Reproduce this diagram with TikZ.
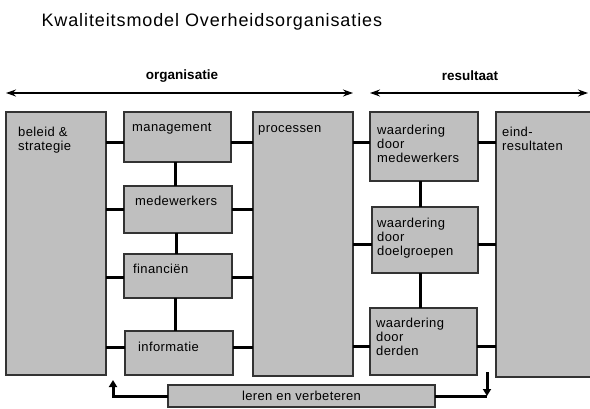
\documentclass[tikz,border=0pt]{standalone}
\usepackage{fontspec}
\setmainfont{Liberation Sans}
\newfontfamily\titelletter[LetterSpace=5]{Liberation Sans}
\newfontfamily\blokletter[LetterSpace=3]{Liberation Sans}
\usetikzlibrary{arrows.meta}

\begin{document}
\begin{tikzpicture}[
    x=1pt, y=-1pt,
    blok/.style={rectangle, draw=black!80, line width=1.2pt, fill=black!25, anchor=north west, inner sep=0pt, outer sep=0pt, font=\blokletter\fontsize{13}{14}\selectfont},
    txt/.style={anchor=north west, inner sep=0pt, align=left, shift={#1}, font=\blokletter\fontsize{13}{14}\selectfont},
    kop/.style={font=\bfseries\fontsize{13.5}{15}\selectfont},
    pijl/.style={line width=1.2pt, {Stealth[length=10pt,width=7pt]}-{Stealth[length=10pt,width=7pt]}},
    conn/.style={line width=3pt, black},
    terugpijl/.style={conn, -{Triangle[length=7pt,width=8pt]}}
]
    \useasboundingbox (0,0) rectangle (590,408);

    % Titel
    \node[anchor=base west, font=\titelletter\fontsize{18}{20}\selectfont] (titel) at (38,26) {Kwaliteitsmodel Overheidsorganisaties};

    % Kopjes en pijlen
    \node[kop] (org) at (182,76) {organisatie};
    \node[kop] (res) at (470,76) {resultaat};
    \coordinate (org-l) at (6,93);
    \coordinate (org-r) at (353,93);
    \coordinate (res-l) at (370,93);
    \coordinate (res-r) at (588,93);
    \draw[pijl] (org-l) -- (org-r);
    \draw[pijl] (res-l) -- (res-r);

    % Organisatie
    \node[blok, minimum width=100, minimum height=263, label={[txt={(12,15)}]north west:beleid \&\\strategie}] (beleid) at (6,112) {};
    \node[blok, minimum width=107, minimum height=50, label={[txt={(8,11)}]north west:management}] (man) at (124,112) {};
    \node[blok, minimum width=108, minimum height=47, label={[txt={(11,10)}]north west:medewerkers}] (med) at (124,186) {};
    \node[blok, minimum width=108, minimum height=44, label={[txt={(9,10)}]north west:financiën}] (fin) at (124,254) {};
    \node[blok, minimum width=108, minimum height=44, label={[txt={(13,11)}]north west:informatie}] (info) at (125,331) {};
    \node[blok, minimum width=100, minimum height=264, label={[txt={(5,13)}]north west:processen}] (proc) at (253,112) {};

    % Resultaat
    \node[blok, minimum width=108, minimum height=69, label={[txt={(7,13)}]north west:waardering\\door\\medewerkers}] (wmed) at (370,112) {};
    \node[blok, minimum width=106, minimum height=66, label={[txt={(5,11)}]north west:waardering\\door\\doelgroepen}] (wdoel) at (372,207) {};
    \node[blok, minimum width=107, minimum height=67, label={[txt={(6,10)}]north west:waardering\\door\\derden}] (wder) at (370,308) {};
    \node[blok, minimum width=100, minimum height=265, label={[txt={(6,15)}]north west:eind-\\resultaten}] (eind) at (496,112) {};

    % Leren en verbeteren
    \node[blok, minimum width=267, minimum height=22] (leren) at (168,385) {leren en verbeteren};

    % Verbindingen
    \foreach \b/\dy in {man/-5, med/0, fin/-1, info/6} {
        \draw[conn] ([yshift=\dy pt]\b.west) -- ([yshift=\dy pt]\b.west -| beleid.east);
        \draw[conn] ([yshift=\dy pt]\b.east) -- ([yshift=\dy pt]\b.east -| proc.west);
    }
    \foreach \b/\dy in {wmed/4, wdoel/-4, wder/-5} {
        \draw[conn] ([yshift=\dy pt]\b.west) -- ([yshift=\dy pt]\b.west -| proc.east);
        \draw[conn] ([yshift=\dy pt]\b.east) -- ([yshift=\dy pt]\b.east -| eind.west);
    }
    \draw[conn] ([xshift=-2pt]man.south) -- ([xshift=-2pt]man.south |- med.north);
    \draw[conn] ([xshift=-2pt]med.south) -- ([xshift=-2pt]med.south |- fin.north);
    \draw[conn] ([xshift=-3pt]fin.south) -- ([xshift=-3pt]fin.south |- info.north);
    \draw[conn] ([xshift=-4pt]wmed.south) -- ([xshift=-4pt]wmed.south |- wdoel.north);
    \draw[conn] ([xshift=-5pt]wdoel.south) -- ([xshift=-5pt]wdoel.south |- wder.north);

    % Terugkoppeling
    \coordinate (terug) at (113,380);
    \coordinate (naar) at (487,372);
    \coordinate (hoek) at (naar |- leren.east);
    \draw[terugpijl] (leren.west) -| (terug);
    \draw[conn] (leren.east) -- (hoek);
    \draw[terugpijl] (naar) -- (hoek);
\end{tikzpicture}
\end{document}
